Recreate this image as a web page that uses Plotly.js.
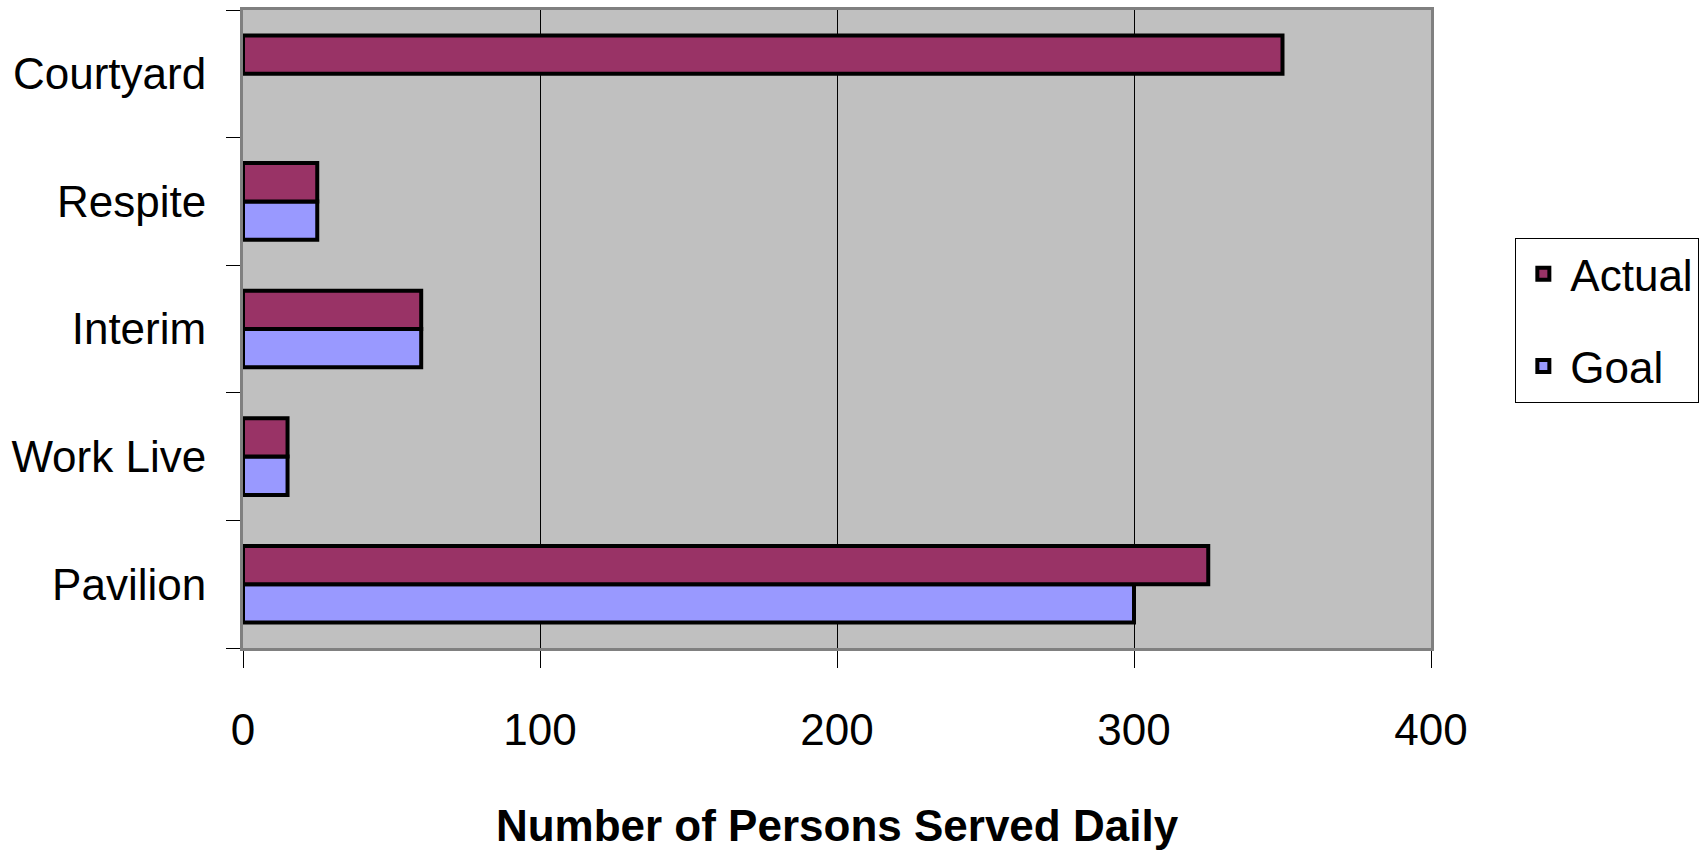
<!DOCTYPE html>
<html>
<head>
<meta charset="utf-8">
<script src="https://cdn.plot.ly/plotly-3.0.1.min.js"></script>
<style>html,body{margin:0;padding:0;background:#fff;}#chart{width:1706px;height:854px;}</style>
</head>
<body>
<div id="chart"></div>
<script>
// Categories listed bottom-to-top as drawn
var categories = ["Pavilion", "Work Live", "Interim", "Respite", "Courtyard"];
var actualValues = [325, 15, 60, 25, 350];
var goalValues = [300, 15, 60, 25, null];
var xTicks = [0, 100, 200, 300, 400];
var xTitle = "Number of Persons Served Daily";

var FONT = "'Liberation Sans Narrow', 'Arial Narrow', 'Liberation Sans', Arial, sans-serif";
var FS = 44;

var traces = [
  {
    type: "bar", orientation: "h", name: "Goal",
    y: categories, x: goalValues,
    marker: {color: "#9999FF", line: {color: "#000000", width: 4}},
    legendrank: 2, legendgroup: "g2", hoverinfo: "x+y+name"
  },
  {
    type: "bar", orientation: "h", name: "Actual",
    y: categories, x: actualValues,
    marker: {color: "#993366", line: {color: "#000000", width: 4}},
    legendrank: 1, legendgroup: "g1", hoverinfo: "x+y+name"
  }
];

var layout = {
  width: 1706, height: 854,
  margin: {l: 243, r: 275, t: 10, b: 206, pad: 0, autoexpand: false},
  paper_bgcolor: "#ffffff",
  plot_bgcolor: "#C0C0C0",
  font: {family: FONT, size: FS, color: "#000000"},
  barmode: "group",
  bargap: 0.4,
  bargroupgap: 0,
  showlegend: true,
  legend: {
    x: 1.071, xanchor: "left", y: 0.643, yanchor: "top",
    bgcolor: "#ffffff", bordercolor: "#000000", borderwidth: 1,
    font: {family: FONT, size: FS, color: "#000000"},
    traceorder: "grouped", tracegroupgap: 32,
    itemwidth: 44
  },
  xaxis: {
    range: [0, 400],
    tickvals: xTicks,
    ticktext: xTicks.map(String),
    showgrid: true, gridcolor: "#000000", gridwidth: 1,
    zeroline: false,
    showline: true, linecolor: "#808080", linewidth: 3, mirror: true,
    ticks: "outside", ticklen: 17, tickcolor: "#000000", tickwidth: 1,
    ticklabelstandoff: 24,
    tickfont: {family: FONT, size: FS},
    title: {text: "<b>" + xTitle + "</b>", font: {family: FONT, size: FS}, standoff: 58},
    fixedrange: true
  },
  yaxis: {
    type: "category",
    categoryorder: "array", categoryarray: categories,
    showgrid: false, zeroline: false,
    showline: true, linecolor: "#808080", linewidth: 3, mirror: true,
    ticks: "outside", tickson: "boundaries", ticklen: 14, tickcolor: "#000000", tickwidth: 1,
    ticklabelstandoff: 25,
    tickfont: {family: FONT, size: FS},
    fixedrange: true
  }
};

Plotly.newPlot("chart", traces, layout, {displayModeBar: false, staticPlot: true});
</script>
</body>
</html>
